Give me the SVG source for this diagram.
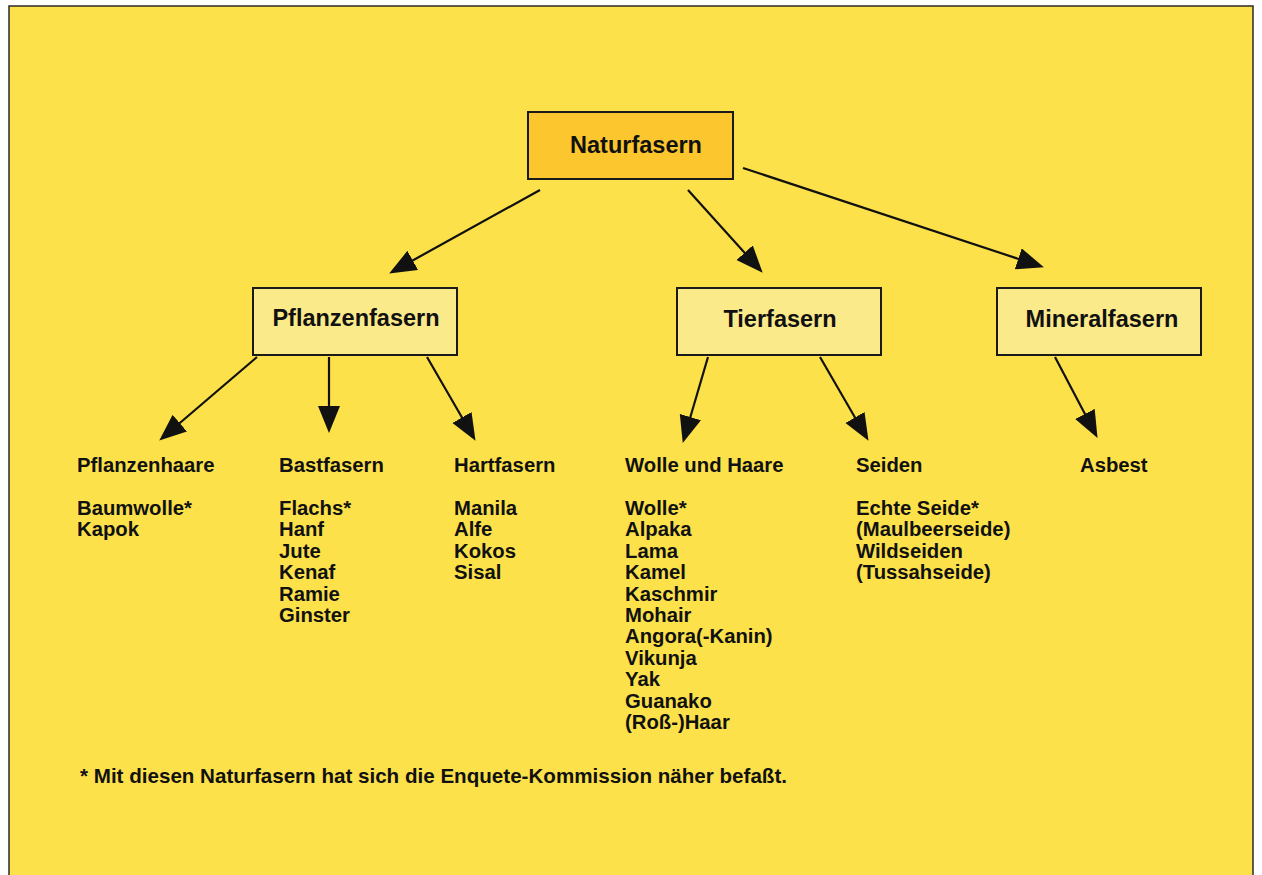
<svg xmlns="http://www.w3.org/2000/svg" width="1262" height="875" viewBox="0 0 1262 875">
  <style>
    .frame { fill: #fce14a; stroke: #2a2a2a; stroke-width: 1.5; }
    .root { fill: #fcc62e; stroke: #1a1a1a; stroke-width: 2; }
    .sub { fill: #fbea8a; stroke: #1a1a1a; stroke-width: 2; }
    .title { font-family: "Liberation Sans", Arial, sans-serif; font-weight: bold; font-size: 23.5px; fill: #111; text-anchor: middle; }
    .col { font-family: "Liberation Sans", Arial, sans-serif; font-weight: bold; font-size: 20.3px; fill: #111; }
    .note { font-family: "Liberation Sans", Arial, sans-serif; font-weight: bold; font-size: 20.5px; fill: #111; }
    .edge { stroke: #111; stroke-width: 2.2; fill: none; marker-end: url(#arrow); }
  </style>
  <defs>
    <marker id="arrow" markerUnits="userSpaceOnUse" markerWidth="30" markerHeight="24" refX="13" refY="11" orient="auto">
      <path d="M0,0 L27,11 L0,22 z" fill="#111"/>
    </marker>
  </defs>

  <rect x="0" y="0" width="1262" height="875" fill="#ffffff"/>
  <rect class="frame" x="9" y="6" width="1244" height="880"/>

  <g id="connectors">
    <line class="edge" x1="540" y1="190" x2="401.4" y2="266.7"/>
    <line class="edge" x1="688" y1="190" x2="753.3" y2="262.4"/>
    <line class="edge" x1="743" y1="168" x2="1030.6" y2="262.9"/>
    <line class="edge" x1="257" y1="357" x2="169.9" y2="431.5"/>
    <line class="edge" x1="329" y1="357" x2="329" y2="419"/>
    <line class="edge" x1="427" y1="357" x2="468.5" y2="428.7"/>
    <line class="edge" x1="708" y1="357" x2="686.7" y2="429.5"/>
    <line class="edge" x1="820" y1="357" x2="861.5" y2="428.7"/>
    <line class="edge" x1="1055" y1="357" x2="1091" y2="425.5"/>
  </g>

  <g id="naturfasern">
    <rect class="root" x="528" y="112" width="205" height="67"/>
    <text class="title" x="636" y="153">Naturfasern</text>
  </g>
  <g id="pflanzenfasern">
    <rect class="sub" x="253" y="288" width="204" height="67"/>
    <text class="title" x="356" y="326">Pflanzenfasern</text>
  </g>
  <g id="tierfasern">
    <rect class="sub" x="677" y="288" width="204" height="67"/>
    <text class="title" x="780" y="327">Tierfasern</text>
  </g>
  <g id="mineralfasern">
    <rect class="sub" x="997" y="288" width="204" height="67"/>
    <text class="title" x="1102" y="327">Mineralfasern</text>
  </g>

  <g id="pflanzenhaare">
    <text class="col" x="77" y="472">Pflanzenhaare</text>
    <text class="col" x="77" y="515">Baumwolle*</text>
    <text class="col" x="77" y="536.4">Kapok</text>
  </g>
  <g id="bastfasern">
    <text class="col" x="279" y="472">Bastfasern</text>
    <text class="col" x="279" y="515">Flachs*</text>
    <text class="col" x="279" y="536.4">Hanf</text>
    <text class="col" x="279" y="557.8">Jute</text>
    <text class="col" x="279" y="579.2">Kenaf</text>
    <text class="col" x="279" y="600.6">Ramie</text>
    <text class="col" x="279" y="622">Ginster</text>
  </g>
  <g id="hartfasern">
    <text class="col" x="454" y="472">Hartfasern</text>
    <text class="col" x="454" y="515">Manila</text>
    <text class="col" x="454" y="536.4">Alfe</text>
    <text class="col" x="454" y="557.8">Kokos</text>
    <text class="col" x="454" y="579.2">Sisal</text>
  </g>
  <g id="wolle-und-haare">
    <text class="col" x="625" y="472">Wolle und Haare</text>
    <text class="col" x="625" y="515">Wolle*</text>
    <text class="col" x="625" y="536.4">Alpaka</text>
    <text class="col" x="625" y="557.8">Lama</text>
    <text class="col" x="625" y="579.2">Kamel</text>
    <text class="col" x="625" y="600.6">Kaschmir</text>
    <text class="col" x="625" y="622">Mohair</text>
    <text class="col" x="625" y="643.4">Angora(-Kanin)</text>
    <text class="col" x="625" y="664.8">Vikunja</text>
    <text class="col" x="625" y="686.2">Yak</text>
    <text class="col" x="625" y="707.6">Guanako</text>
    <text class="col" x="625" y="729">(Roß-)Haar</text>
  </g>
  <g id="seiden">
    <text class="col" x="856" y="472">Seiden</text>
    <text class="col" x="856" y="515">Echte Seide*</text>
    <text class="col" x="856" y="536.4">(Maulbeerseide)</text>
    <text class="col" x="856" y="557.8">Wildseiden</text>
    <text class="col" x="856" y="579.2">(Tussahseide)</text>
  </g>
  <g id="asbest">
    <text class="col" x="1080" y="472">Asbest</text>
  </g>

  <text class="note" x="80" y="783" textLength="707" lengthAdjust="spacingAndGlyphs">* Mit diesen Naturfasern hat sich die Enquete-Kommission näher befaßt.</text>
</svg>
